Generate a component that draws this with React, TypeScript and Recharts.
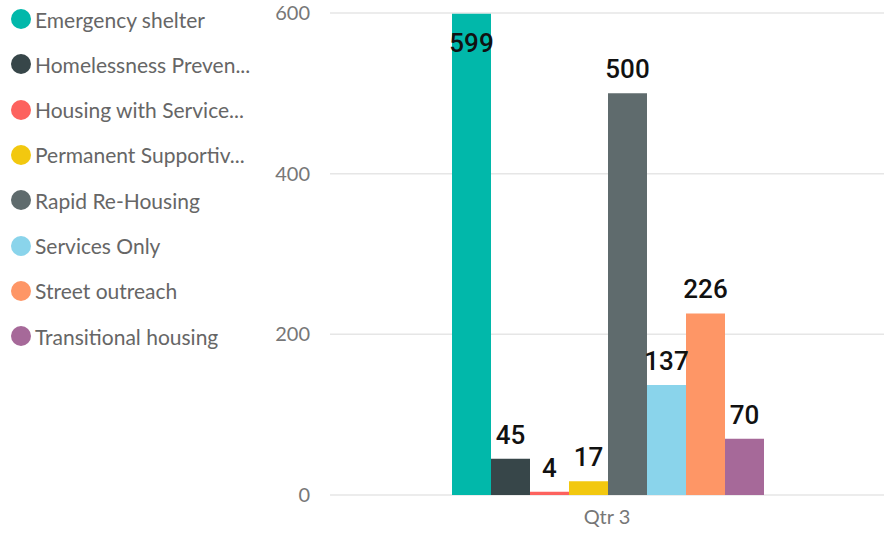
import React from "react";
import {
  Bar,
  BarChart,
  CartesianGrid,
  LabelList,
  Legend,
  XAxis,
  YAxis,
} from "recharts";

const categories = ["Qtr 3"];
const seriesNames = [
  "Emergency shelter",
  "Homelessness Preven...",
  "Housing with Service...",
  "Permanent Supportiv...",
  "Rapid Re-Housing",
  "Services Only",
  "Street outreach",
  "Transitional housing",
];
const seriesValues = [599, 45, 4, 17, 500, 137, 226, 70];
const seriesColors = [
  "#01B8AA",
  "#374649",
  "#FD625E",
  "#F2C80F",
  "#5F6B6D",
  "#8AD4EB",
  "#FE9666",
  "#A66999",
];
const yTicks = [0, 200, 400, 600];

const data = categories.map((name) => {
  const row: Record<string, string | number> = { name };
  seriesNames.forEach((s, i) => {
    row["s" + i] = seriesValues[i];
  });
  return row;
});

const FONT = "Lato, 'Open Sans', sans-serif";

const ValueLabel = (props: any) => {
  const { x, y, width, value } = props;
  const cx = x + width / 2;
  // not enough room above the bar -> draw it inside
  const inside = y < 40;
  return (
    <text
      x={cx}
      y={inside ? y + 38 : y - 15}
      textAnchor="middle"
      fill="#111"
      fontSize={26}
      fontWeight={500}
      fontFamily="Roboto, sans-serif"
    >
      {value}
    </text>
  );
};

const LegendList = () => (
  <div style={{ position: "relative", width: 270, height: 534 }}>
    {seriesNames.map((name, i) => (
      <div
        key={name}
        style={{
          position: "absolute",
          left: 11,
          top: 20 + i * 45.3 - 13,
          height: 24,
          display: "flex",
          alignItems: "center",
          whiteSpace: "nowrap",
        }}
      >
        <span
          style={{
            width: 20,
            height: 20,
            borderRadius: 10,
            background: seriesColors[i],
            display: "inline-block",
            marginRight: 4,
          }}
        />
        <span style={{ fontFamily: FONT, fontSize: 21, color: "#666" }}>
          {name}
        </span>
      </div>
    ))}
  </div>
);

const App = () => {
  return (
    <div style={{ position: "absolute", left: 0, top: 0 }}>
      <BarChart
        width={884}
        height={534}
        data={data}
        margin={{ top: 13, right: 0, bottom: 0, left: 0 }}
        barCategoryGap={122}
        barGap={0}
      >
        <CartesianGrid vertical={false} stroke="#e6e6e6" strokeWidth={1.5} />
        <XAxis
          dataKey="name"
          height={39}
          tickLine={false}
          axisLine={false}
          tickMargin={9}
          tick={{ fill: "#777", fontSize: 20, fontFamily: FONT }}
        />
        <YAxis
          width={60}
          domain={[0, 600]}
          ticks={yTicks}
          tickLine={false}
          axisLine={false}
          tickMargin={14}
          tick={{ fill: "#777", fontSize: 20, fontFamily: FONT }}
        />
        <Legend
          layout="vertical"
          align="left"
          verticalAlign="top"
          width={270}
          wrapperStyle={{ left: 0, top: 0 }}
          content={() => <LegendList />}
        />
        {seriesNames.map((name, i) => (
          <Bar
            key={name}
            dataKey={"s" + i}
            name={name}
            fill={seriesColors[i]}
            isAnimationActive={false}
          >
            <LabelList dataKey={"s" + i} content={ValueLabel} />
          </Bar>
        ))}
      </BarChart>
    </div>
  );
};

export default App;
